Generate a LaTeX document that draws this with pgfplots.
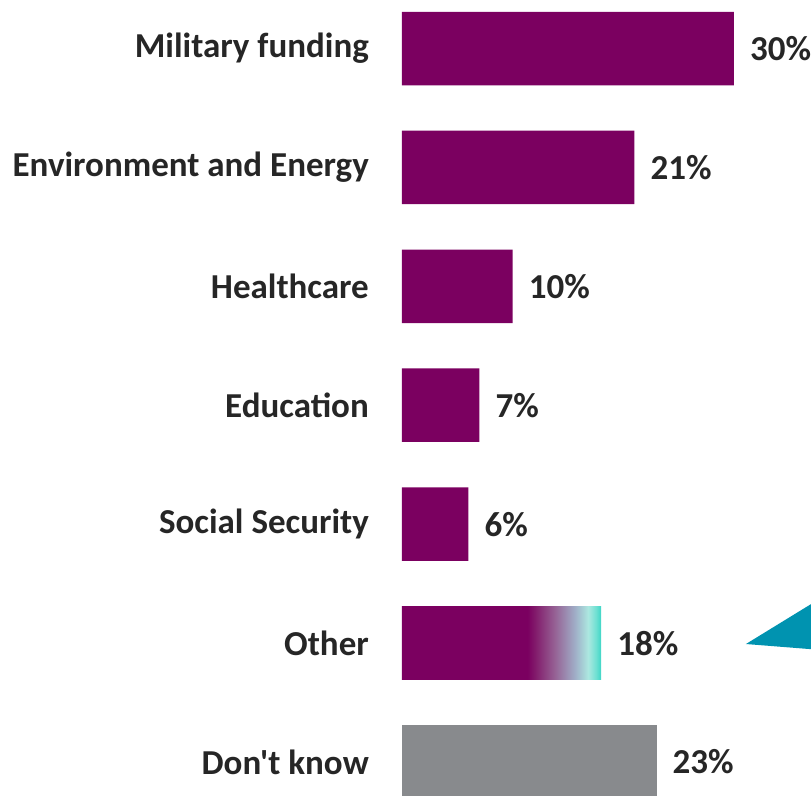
\documentclass[border=0pt]{standalone}
\usepackage{pgfplots}
\pgfplotsset{compat=1.18}
\usepackage{fontspec}
\setmainfont{Carlito}[Ligatures=TeXOff]
\definecolor{barpurple}{RGB}{123,0,96}
\definecolor{bargrey}{RGB}{136,138,141}
\definecolor{txtgrey}{RGB}{38,38,38}
\definecolor{tealtri}{RGB}{0,147,176}
\definecolor{g1}{RGB}{130,28,108}
\definecolor{g2}{RGB}{150,100,150}
\definecolor{g3}{RGB}{160,175,200}
\definecolor{g4}{RGB}{172,232,224}
\definecolor{g5}{RGB}{110,224,210}
\definecolor{g6}{RGB}{60,214,198}
\pgfdeclarehorizontalshading{otherfade}{100bp}{color(0bp)=(barpurple); color(56.5bp)=(barpurple); color(58.5bp)=(g1); color(63.5bp)=(g2); color(68.5bp)=(g3); color(71.75bp)=(g4); color(73.75bp)=(g5); color(75bp)=(g6); color(100bp)=(g6)}
\begin{document}
\begin{tikzpicture}
\begin{axis}[
  scale only axis,
  width=811pt, height=796pt,
  xmin=-36.32, xmax=36.96,
  ymin=-0.286, ymax=6.408,
  clip=false,
  axis line style={draw=none},
  major tick length=0pt,
  xtick=\empty,
  ytick={0,1,2,3,4,5,6},
  yticklabels={Don't know,Other,Social Security,Education,Healthcare,Environment and Energy,Military funding},
  yticklabel style={anchor=east, inner sep=0pt, xshift=369pt, text=txtgrey, font=\bfseries\fontsize{35}{40}\selectfont},
  xbar, bar width=73.5pt, bar shift=0pt,
  nodes near coords={\pgfmathprintnumber[assume math mode=true]{\pgfplotspointmeta}\%},
  point meta=x,
  nodes near coords style={anchor=west, inner sep=0pt, xshift=16pt, text=txtgrey, font=\bfseries\fontsize{35}{40}\selectfont},
]
\addplot[draw=none, fill=barpurple] coordinates {(30,6) (21,5) (10,4) (7,3) (6,2)};
\addplot[draw=none, fill=barpurple, shading=otherfade] coordinates {(18,1)};
\addplot[draw=none, fill=bargrey] coordinates {(23,0)};
\fill[tealtri] (axis cs:31.08,0.992) -- (axis cs:38,1.387) -- (axis cs:38,0.941) -- cycle;
\end{axis}
\pgfresetboundingbox
\useasboundingbox (current axis.south west) rectangle (current axis.north east);
\end{tikzpicture}
\end{document}
